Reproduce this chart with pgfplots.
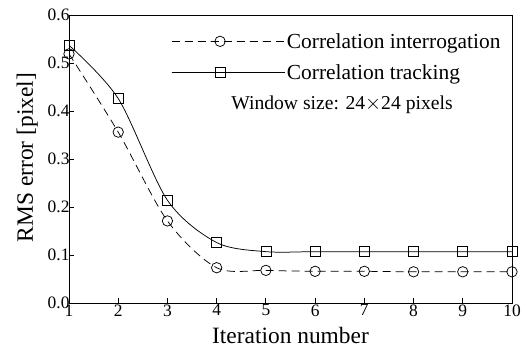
\documentclass[border=0pt]{standalone}
\usepackage{pgfplots}
\pgfplotsset{compat=1.18}
\usepackage{fontspec}
\setmainfont{Liberation Serif}
\begin{document}
\begin{tikzpicture}
\begin{axis}[
  name=ax,
  scale only axis,
  width=443bp, height=288bp,
  xmin=1, xmax=10, ymin=0, ymax=0.6,
  xtick={1,...,10},
  ytick={0,0.1,0.2,0.3,0.4,0.5,0.6},
  yticklabel style={/pgf/number format/fixed, /pgf/number format/fixed zerofill, /pgf/number format/precision=1, xshift=4bp},
  /pgf/number format/assume math mode=true,
  tick align=inside,
  xtick pos=bottom, ytick pos=left,
  major tick length=5bp,
  tick style={black, line width=0.8pt},
  axis line style={line width=0.9pt},
  ticklabel style={font=\fontsize{17.5}{19}\selectfont},
  xticklabel style={yshift=2bp},
  xlabel={Iteration number},
  ylabel={RMS error [pixel]},
  label style={font=\fontsize{23.5}{25}\selectfont},
  xlabel style={at={(axis description cs:0.5,-0.1389)}, anchor=base},
  ylabel style={at={(axis description cs:-0.0813,0.505)}, anchor=base},
  legend style={draw=none, fill=none, font=\fontsize{21.5}{23}\selectfont,
    at={(axis description cs:0.228,0.948)}, anchor=north west,
    row sep=11bp, inner sep=1bp},
  legend cell align=left,
  legend image code/.code={
    \draw[mark repeat=2,mark phase=2,#1] plot coordinates {(0bp,0bp)(48.5bp,0bp)(97bp,0bp)};
    \path (0bp,0bp) -- (113bp,0bp);
  },
]
\addplot[black, line width=0.75pt, dash pattern=on 8bp off 5bp, smooth, tension=0.5,
  mark=o, mark size=5.2bp, mark options={solid}]
  coordinates {(1,0.519)(2,0.356)(3,0.171)(4,0.0735)(5,0.068)(6,0.066)(7,0.066)(8,0.065)(9,0.065)(10,0.065)};
\addlegendentry{Correlation interrogation}
\addplot[black, line width=0.75pt, smooth, tension=0.5,
  mark=square, mark size=5bp, mark options={solid}]
  coordinates {(1,0.537)(2,0.426)(3,0.214)(4,0.126)(5,0.107)(6,0.107)(7,0.107)(8,0.107)(9,0.107)(10,0.107)};
\addlegendentry{Correlation tracking}
\node[anchor=center, font=\fontsize{19.7}{22}\selectfont] at (axis cs:6.546,0.4125) {Window size: 24$\times$24 pixels};
\end{axis}
\pgfresetboundingbox
\useasboundingbox ([xshift=-69bp,yshift=-44bp]ax.south west) rectangle ([xshift=9bp,yshift=15bp]ax.north east);
\end{tikzpicture}
\end{document}
